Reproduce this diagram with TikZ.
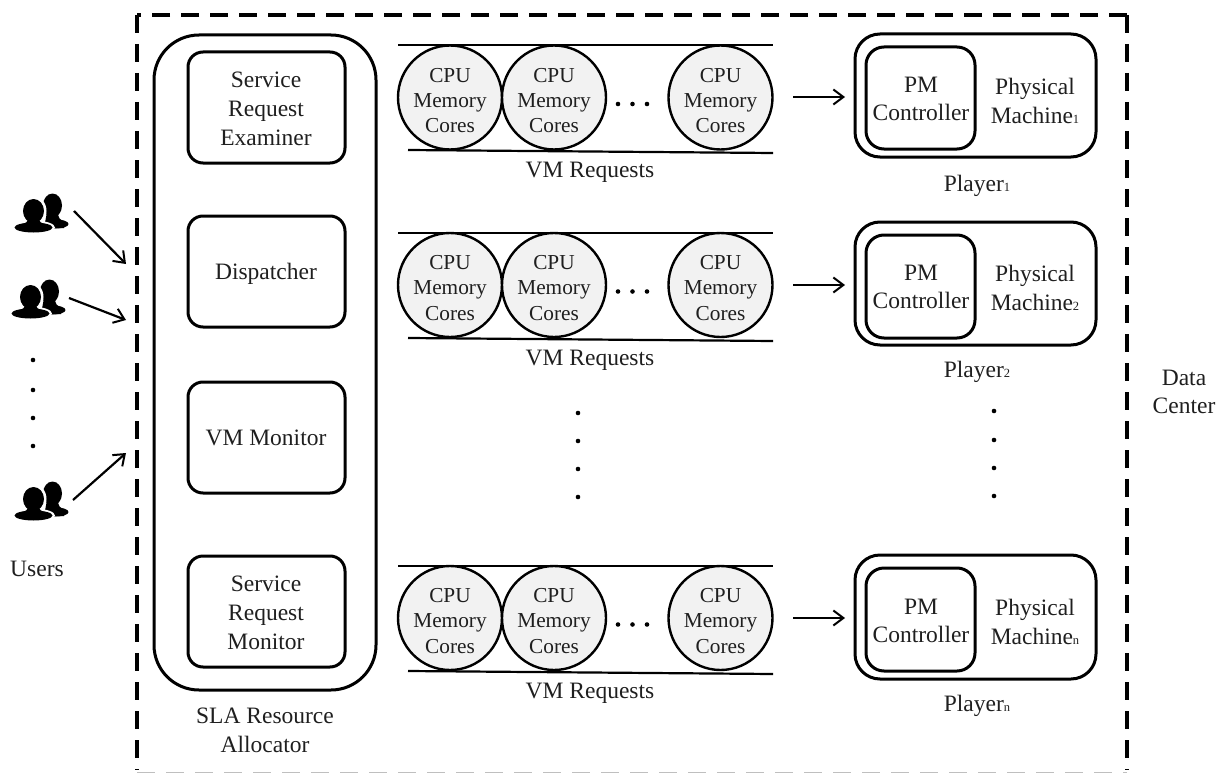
\documentclass[tikz,border=0pt]{standalone}
\usepackage{fontspec}
\setmainfont{Liberation Serif}
\newcommand{\subdigit}[1]{{\fontsize{12.5}{12.5}\selectfont #1}}
\usetikzlibrary{arrows.meta}
\tikzset{
  x=1pt,y=-1pt,
  lbl/.style={inner sep=0pt,align=center,font=\fontsize{23.5}{28.8}\selectfont,text=black!88},
  cpulbl/.style={inner sep=0pt,align=center,font=\fontsize{21.3}{25.2}\selectfont,text=black!88},
  outerbox/.style={draw=black,line width=3pt,rounded corners=45pt,fill=none},
  innerbox/.style={draw=black,line width=3pt,rounded corners=15pt,fill=none},
  pmouter/.style={draw=black,line width=3pt,rounded corners=25pt,fill=none},
  pminner/.style={draw=black,line width=3pt,rounded corners=18pt,fill=none},
  vmcircle/.style={circle,draw=black,line width=2.4pt,fill=black!5,minimum size=104pt,inner sep=0pt},
  railline/.style={line width=2.2pt,draw=black},
  flow/.style={line width=2.2pt,draw=black,-{Straight Barb[length=10pt,width=15pt,line width=2pt]}},
  boundary/.style={line width=4.4pt,draw=black,dash pattern=on 18pt off 11pt},
  dotnode/.style={circle,fill=black,inner sep=0pt,minimum size=4.6pt},
  user/.pic={
    % rear figure
    \fill[black] (52.5,205.5) ellipse (9.5 and 12);
    \fill[black] (47,212) -- (58,212) .. controls (58,218) and (60,220) .. (64,221) -- (64,228) -- (44,228) -- cycle;
    \fill[black] (56,224) ellipse (12.5 and 4.5);
    % white halo of the front figure
    \fill[white] (33.5,211) ellipse (13 and 15);
    \fill[white] (33.5,227.5) ellipse (21.5 and 7);
    \fill[white] (22,216) rectangle (45,226);
    % front figure
    \fill[black] (33.5,211) ellipse (10.5 and 12);
    \fill[black] (28,218) -- (39,218) .. controls (39,222) and (41,223) .. (46,225) -- (46,229) -- (21,229) -- (21,225) .. controls (26,223) and (28,222) .. cycle;
    \fill[black] (33.5,227.5) ellipse (19 and 5);
  }
}
\begin{document}
\begin{tikzpicture}
\useasboundingbox (0,0) rectangle (1231,773);
% data center boundary
\coordinate (dcA) at (137,15);
\coordinate (dcB) at (1127,15);
\coordinate (dcC) at (1127,770);
\coordinate (dcD) at (137,770);
\draw[boundary] (dcB) -- (dcA);
\draw[boundary] (dcA) -- (dcD);
\draw[boundary] (dcB) -- (dcC);
\coordinate (dcE) at (137,772.5);
\coordinate (dcF) at (1127,772.5);
\draw[line width=1.2pt,draw=black!25,dash pattern=on 18pt off 11pt] (dcE) -- (dcF);
\node[lbl] (dclabel) at (1184,392) {Data\\Center};
% SLA allocator
\draw[outerbox] (154,35) rectangle (376,690);
\node[lbl] (slalabel) at (265,730) {SLA Resource\\Allocator};
\draw[innerbox] (188,52) rectangle (345,163);
\draw[innerbox] (188,216) rectangle (345,327);
\draw[innerbox] (188,382) rectangle (345,493);
\draw[innerbox] (188,556) rectangle (345,667);
\node[lbl] (examiner) at (266,109) {Service\\Request\\Examiner};
\node[lbl] (dispatcher) at (266,274) {Dispatcher};
\node[lbl] (vmmonitor) at (266,438) {VM Monitor};
\node[lbl] (srmonitor) at (266,613) {Service\\Request\\Monitor};
% VM queues and machines
\foreach \r/\cy/\tl/\bla/\blb/\req/\arr/\oa/\ob/\ia/\ib/\pm/\ph/\pl/\sub in {
  a/97.5/45/150/153/172/97/34/157/47/149/99/101/186/1,
  b/285/233/338/341/360/285/222/345/235/338/287/288/372/2,
  c/618/566/671/674/693/618/555/679/568/671/621/622/706/n}{
  \coordinate (\r TL) at (398,\tl);
  \coordinate (\r TR) at (773,\tl);
  \coordinate (\r BL) at (408,\bla);
  \coordinate (\r BR) at (773,\blb);
  \draw[railline] (\r TL) -- (\r TR);
  \draw[railline] (\r BL) -- (\r BR);
  \node[vmcircle] (\r1) at (450,\cy) {};
  \node[vmcircle] (\r2) at (554,\cy) {};
  \node[vmcircle] (\r3) at (720.5,\cy) {};
  \node[cpulbl] (\r1t) at (450,\cy+3) {CPU\\Memory\\Cores};
  \node[cpulbl] (\r2t) at (554,\cy+3) {CPU\\Memory\\Cores};
  \node[cpulbl] (\r3t) at (720.5,\cy+3) {CPU\\Memory\\Cores};
  \node[dotnode] (\r d1) at (618,\cy+6.5) {};
  \node[dotnode] (\r d2) at (632.5,\cy+6.5) {};
  \node[dotnode] (\r d3) at (647,\cy+6.5) {};
  \node[lbl] (\r req) at (590,\req) {VM Requests};
  \draw[pmouter] (855,\oa) rectangle (1096,\ob);
  \draw[pminner] (866,\ia) rectangle (975,\ib);
  \node[lbl] (\r pm) at (921,\pm) {PM\\Controller};
  \node[lbl] (\r ph) at (1035,\ph) {Physical\\Machine\subdigit{\sub}};
  \node[lbl] (\r pl) at (977,\pl) {Player\subdigit{\sub}};
  \coordinate (\r from) at (793,\arr);
  \coordinate (\r to) at (845,\arr);
  \draw[flow] (\r from) -- (\r to);
}
% vertical dots
\foreach \n/\y in {1/413,2/441,3/469,4/497}{\node[dotnode] (vd\n) at (578,\y) {};}
\foreach \n/\y in {1/411,2/440,3/468,4/496}{\node[dotnode] (pd\n) at (994,\y) {};}
\foreach \n/\y in {1/360,2/390,3/418,4/446}{\node[dotnode] (ud\n) at (33,\y) {};}
% users
\pic at (0,0) {user};
\pic at (-3,86) {user};
\pic at (0,288) {user};
\node[lbl] (users) at (37,569) {Users};
\coordinate (u1) at (74,211);
\coordinate (u1t) at (126,264);
\coordinate (u2) at (69,298);
\coordinate (u2t) at (126,320);
\coordinate (u3) at (73,500);
\coordinate (u3t) at (126,453);
\draw[flow] (u1) -- (u1t);
\draw[flow] (u2) -- (u2t);
\draw[flow] (u3) -- (u3t);
\end{tikzpicture}
\end{document}
